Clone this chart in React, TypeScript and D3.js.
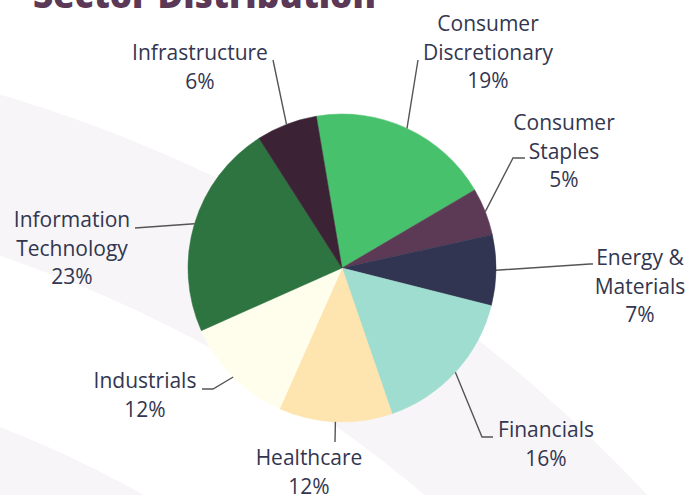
import React from 'react';
import * as d3 from 'd3';

// sector shares (labels show the rounded %)
const sectors = [
  'Consumer Discretionary',
  'Consumer Staples',
  'Energy & Materials',
  'Financials',
  'Healthcare',
  'Industrials',
  'Information Technology',
  'Infrastructure',
];
const shares = [19.2, 5.0, 7.4, 15.8, 11.9, 11.7, 22.6, 6.4];
const labelLines = [
  ['Consumer', 'Discretionary'],
  ['Consumer', 'Staples'],
  ['Energy &', 'Materials'],
  ['Financials'],
  ['Healthcare'],
  ['Industrials'],
  ['Information', 'Technology'],
  ['Infrastructure'],
];
const colors = ['#48c16d', '#5c3a55', '#323551', '#a0ddd1', '#fee4ae', '#fffeec', '#2d7441', '#3b2235'];

// label placement relative to pie centre: text centre x, first baseline y,
// where the tick meets the text and the elbow before it
const labelLayout = [
  { x: 146, y: -237, attach: [76, -208], knee: [76, -208] },
  { x: 222, y: -138, attach: [183, -110], knee: [171, -110] },
  { x: 298, y: -3, attach: [251, -4], knee: [248, -4] },
  { x: 204, y: 169, attach: [151, 169], knee: [140, 169] },
  { x: -33, y: 197, attach: [-7, 174], knee: [-7, 174] },
  { x: -197, y: 120, attach: [-140, 121], knee: [-129, 121] },
  { x: -270, y: -41, attach: [-207, -40], knee: [-207, -40] },
  { x: -142, y: -208, attach: [-69, -208], knee: [-69, -208] },
];

const W = 690, H = 495;
const cx = 342, cy = 268, R = 154;
const lineH = 28.5;
const startDeg = -9.6;

export default function App() {
  const total = d3.sum(shares);
  const start = (startDeg * Math.PI) / 180;
  const pie = d3.pie<number>().sort(null).value(d => d).startAngle(start).endAngle(start + 2 * Math.PI);
  const arcs = pie(shares);
  const arc = d3.arc<d3.PieArcDatum<number>>().innerRadius(0).outerRadius(R);
  const edge = d3.arc<d3.PieArcDatum<number>>().innerRadius(R).outerRadius(R);

  // faint concentric bands in the background
  const bandC = [-410, 1480];
  const band = d3.arc();
  const bands = [
    { inner: 1291, outer: 1445 },
    { inner: 950, outer: 1130 },
  ];

  return (
    <svg width={W} height={H} style={{ position: 'absolute', left: 0, top: 0 }}
      fontFamily="'Open Sans', sans-serif">
      <rect width={W} height={H} fill="#ffffff" />
      <g transform={`translate(${bandC[0]},${bandC[1]})`}>
        {bands.map((b, i) => (
          <path key={i} fill="#f7f5f7"
            d={band({ innerRadius: b.inner, outerRadius: b.outer, startAngle: 0, endAngle: 2 * Math.PI }) || ''} />
        ))}
      </g>

      <text x={33} y={8} fontSize={35} fontWeight={800} fill="#5b3856">Sector Distribution</text>

      <g transform={`translate(${cx},${cy})`}>
        {arcs.map((a, i) => (
          <path key={sectors[i]} d={arc(a) || ''} fill={colors[i]} stroke={colors[i]} strokeWidth={0.5} />
        ))}

        {arcs.map((a, i) => {
          const p = edge.centroid(a);
          const L = labelLayout[i];
          const pts = [p, L.knee, L.attach] as [number, number][];
          return (
            <path key={'t' + i} d={d3.line()(pts) || ''} fill="none" stroke="#555555" strokeWidth={1.4} />
          );
        })}

        {arcs.map((a, i) => {
          const L = labelLayout[i];
          const pct = Math.round((shares[i] / total) * 100) + '%';
          const lines = [...labelLines[i], pct];
          return (
            <text key={'l' + i} x={L.x} y={L.y} textAnchor="middle" fontSize={21} fill="#33364f">
              {lines.map((s, j) => (
                <tspan key={j} x={L.x} y={L.y + j * lineH}>{s}</tspan>
              ))}
            </text>
          );
        })}
      </g>
    </svg>
  );
}
